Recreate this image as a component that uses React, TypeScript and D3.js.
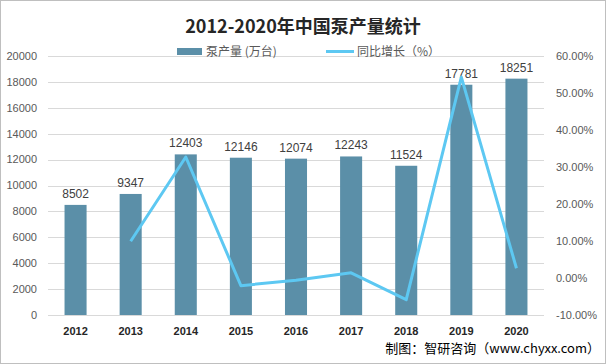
import React, { useEffect, useRef } from 'react'
import * as d3 from 'd3'

const years = ['2012', '2013', '2014', '2015', '2016', '2017', '2018', '2019', '2020']
const output = [8502, 9347, 12403, 12146, 12074, 12243, 11524, 17781, 18251]
const growth = [null, 9.94, 32.7, -2.07, -0.59, 1.4, -5.87, 54.3, 2.64]
const leftTicks = [0, 2000, 4000, 6000, 8000, 10000, 12000, 14000, 16000, 18000, 20000]
const rightTicks = [-10, 0, 10, 20, 30, 40, 50, 60]

const W = 606
const H = 364

function App() {
  const svgRef = useRef(null)

  useEffect(() => {
    const svg = d3.select(svgRef.current)
    svg.selectAll('*').remove()

    const left = 48, right = 544, top = 56, bottom = 315

    const x = d3.scaleBand().domain(years).range([left, right]).paddingInner(0.6).paddingOuter(0.3)
    const y = d3.scaleLinear().domain([0, 20000]).range([bottom, top])
    const y2 = d3.scaleLinear().domain([-10, 60]).range([bottom, top])

    svg.append('rect')
      .attr('x', 0.5).attr('y', 0.5).attr('width', W - 1).attr('height', H - 1)
      .attr('fill', '#fff').attr('stroke', '#bfbfbf')

    // grid
    svg.append('g').selectAll('line')
      .data(leftTicks)
      .join('line')
      .attr('x1', left).attr('x2', right)
      .attr('y1', d => Math.round(y(d)) + 0.5).attr('y2', d => Math.round(y(d)) + 0.5)
      .attr('stroke', '#d9d9d9')

    // left axis labels
    svg.append('g').selectAll('text')
      .data(leftTicks)
      .join('text')
      .attr('x', 37).attr('y', d => y(d))
      .attr('dy', '0.35em')
      .attr('text-anchor', 'end')
      .style('font', '11px "Liberation Sans", Arial, sans-serif')
      .attr('fill', '#595959')
      .text(d => d)

    // right axis labels
    svg.append('g').selectAll('text')
      .data(rightTicks)
      .join('text')
      .attr('x', 556).attr('y', d => y2(d))
      .attr('dy', '0.35em')
      .style('font', '11px "Liberation Sans", Arial, sans-serif')
      .attr('fill', '#595959')
      .text(d => d.toFixed(2) + '%')

    // bars
    svg.append('g').selectAll('rect')
      .data(output)
      .join('rect')
      .attr('x', (d, i) => x(years[i]))
      .attr('width', x.bandwidth())
      .attr('y', d => y(d))
      .attr('height', d => y(0) - y(d))
      .attr('fill', '#5b8fa8')

    // bar labels
    svg.append('g').selectAll('text')
      .data(output)
      .join('text')
      .attr('x', (d, i) => x(years[i]) + x.bandwidth() / 2)
      .attr('y', d => y(d) - 7)
      .attr('text-anchor', 'middle')
      .style('font', '12px "Liberation Sans", Arial, sans-serif')
      .attr('fill', '#404040')
      .text(d => d)

    // growth line
    const pts = growth.map((g, i) => [years[i], g]).filter(p => p[1] !== null)
    const line = d3.line()
      .x(p => x(p[0]) + x.bandwidth() / 2)
      .y(p => y2(p[1]))
    svg.append('path')
      .datum(pts)
      .attr('d', line)
      .attr('fill', 'none')
      .attr('stroke', '#5dc8f2')
      .attr('stroke-width', 3)
      .attr('stroke-linejoin', 'round')

    // x labels
    svg.append('g').selectAll('text')
      .data(years)
      .join('text')
      .attr('x', d => x(d) + x.bandwidth() / 2)
      .attr('y', 331)
      .attr('dy', '0.35em')
      .attr('text-anchor', 'middle')
      .style('font', 'bold 11px "Liberation Sans", Arial, sans-serif')
      .attr('fill', '#262626')
      .text(d => d)

    // title
    svg.append('text')
      .attr('x', 303).attr('y', 33)
      .attr('text-anchor', 'middle')
      .style('font', 'bold 18px "Noto Sans CJK SC", "Liberation Serif", serif')
      .attr('fill', '#262626')
      .text('2012-2020年中国泵产量统计')

    // legend
    const lg = svg.append('g').style('font', '12px "Noto Sans CJK SC", sans-serif').attr('fill', '#595959')
    lg.append('rect').attr('x', 177).attr('y', 48).attr('width', 25).attr('height', 7).attr('fill', '#5b8fa8')
    lg.append('text').attr('x', 206).attr('y', 52).attr('dy', '0.35em').text('泵产量 (万台)')
    lg.append('line').attr('x1', 326).attr('x2', 354).attr('y1', 51.5).attr('y2', 51.5)
      .attr('stroke', '#5dc8f2').attr('stroke-width', 3)
    lg.append('text').attr('x', 357).attr('y', 52).attr('dy', '0.35em').text('同比增长（%）')

    // source
    svg.append('text')
      .attr('x', 600).attr('y', 348)
      .attr('dy', '0.35em')
      .attr('text-anchor', 'end')
      .style('font', '13px "Noto Sans CJK SC", sans-serif')
      .attr('fill', '#000')
      .text('制图：智研咨询（www.chyxx.com）')
  }, [])

  return (
    <svg ref={svgRef} width={W} height={H} style={{ position: 'absolute', left: 0, top: 0, display: 'block' }}></svg>
  )
}

export default App
